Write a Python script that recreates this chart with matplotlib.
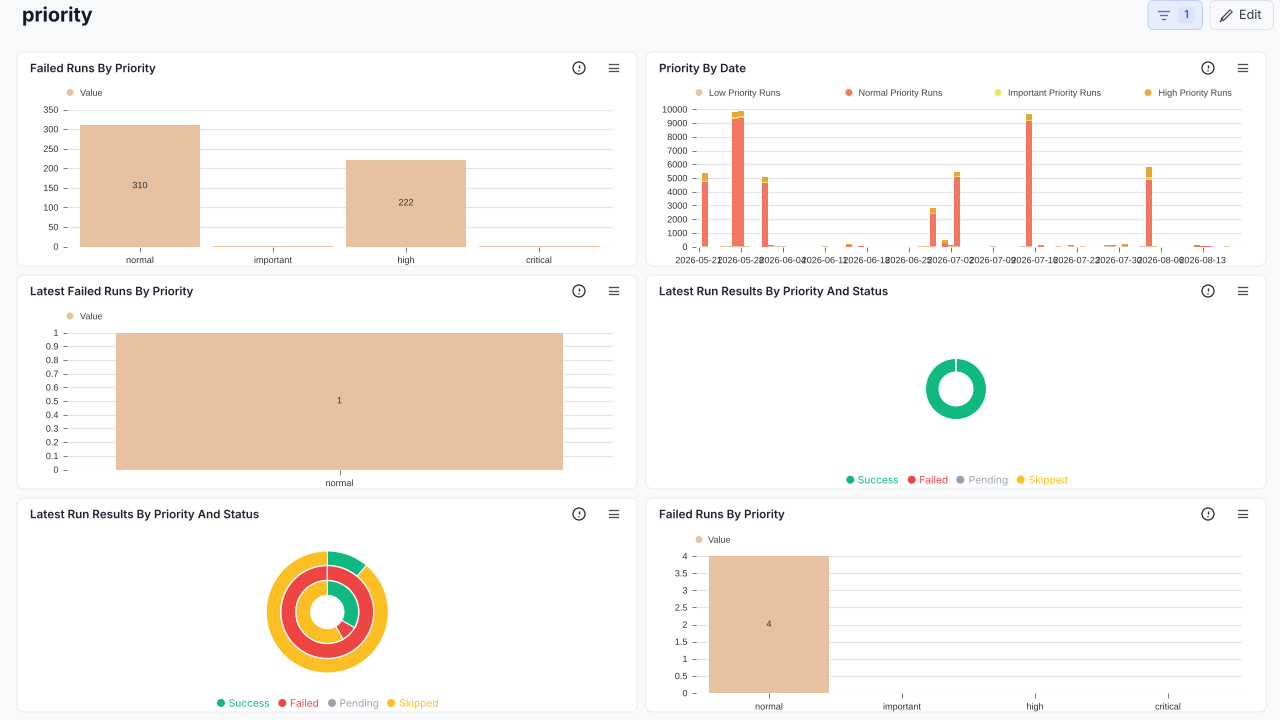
import matplotlib
matplotlib.use("Agg")
import matplotlib.pyplot as plt
import matplotlib.patheffects as pe
import numpy as np
import pandas as pd
from matplotlib.patches import FancyBboxPatch, Circle

W, H = 1280, 720
plt.rcParams["text.hinting"] = "no_hinting"
# text as paths keeps baselines level across words
plt.rcParams["path.effects"] = [pe.Normal()]

# data
priorities = ["normal", "important", "high", "critical"]
failed_runs = [310, 2, 222, 1]
latest_failed_categories = ["normal"]
latest_failed = [1]
failed_runs_latest = [4, 0, 0, 0]

start_date = "2026-05-21"
tick_dates = ["2026-05-21", "2026-05-28", "2026-06-04", "2026-06-11", "2026-06-18",
              "2026-06-25", "2026-07-02", "2026-07-09", "2026-07-16", "2026-07-23",
              "2026-07-30", "2026-08-06", "2026-08-13"]
run_dates = ["2026-05-22", "2026-05-25", "2026-05-26", "2026-05-27", "2026-05-28", "2026-05-29",
             "2026-06-01", "2026-06-02", "2026-06-03", "2026-06-04", "2026-06-11", "2026-06-15",
             "2026-06-17", "2026-06-27", "2026-06-28", "2026-06-29", "2026-07-01", "2026-07-02",
             "2026-07-03", "2026-07-09", "2026-07-14", "2026-07-15", "2026-07-17", "2026-07-20",
             "2026-07-22", "2026-07-24", "2026-07-28", "2026-07-29", "2026-07-31", "2026-08-03",
             "2026-08-04", "2026-08-05", "2026-08-06", "2026-08-12", "2026-08-13", "2026-08-14",
             "2026-08-17"]
low_runs = [30, 50, 20, 20, 20, 20, 10, 40, 60, 40, 20, 0, 10, 15, 15, 20, 0, 50, 20, 50, 20, 20,
            0, 40, 20, 50, 60, 20, 40, 20, 20, 50, 10, 10, 10, 10, 15]
normal_runs = [4650, 10, 10, 9300, 9380, 10, 4650, 70, 10, 5, 5, 120, 15, 5, 5, 2350, 280, 60,
               5080, 0, 0, 9100, 80, 0, 80, 0, 0, 70, 110, 10, 4850, 0, 0, 100, 5, 5, 0]
important_runs = [100, 0, 0, 100, 100, 0, 50, 0, 0, 0, 0, 0, 0, 0, 0, 80, 20, 0, 50, 0, 0, 100,
                  0, 0, 0, 0, 0, 0, 0, 0, 170, 0, 0, 0, 0, 0, 0]
high_runs = [580, 0, 0, 400, 400, 0, 350, 40, 10, 5, 5, 80, 5, 0, 0, 400, 220, 0, 320, 0, 0, 450,
             50, 0, 30, 0, 70, 10, 40, 0, 780, 20, 0, 40, 5, 5, 0]

status_labels = ["Success", "Failed", "Pending", "Skipped"]
single_ring = [36, 0, 0, 0]
outer_ring = [4, 0, 0, 32]
middle_ring = [0, 36, 0, 0]
inner_ring = [12, 3, 0, 21]

# colours
BG = "#f8f9fb"
PANEL_EDGE = "#e9ebef"
PEACH = "#e8c1a0"
RUN_COLORS = ["#e8c1a0", "#f47560", "#f1e15b", "#e8a838"]
STATUS_COLORS = ["#10b981", "#ef4444", "#9ca3af", "#fbbf24"]
TITLE_COL = "#1f2430"
TICK_COL = "#333333"
GRID_COL = "#e4e4e4"
AXIS_FONT = "Liberation Sans"
UI_FONT = "Inter"
AXIS_SIZE = 9.1


def px(n):
    return n * 72 / 100


def axes_px(left, top, right, bottom):
    ax = fig.add_axes([left / W, 1 - bottom / H, (right - left) / W, (bottom - top) / H])
    ax.patch.set_alpha(0)
    return ax


def rbox(x0, y0, x1, y1, r, fc, ec, lw=1.0):
    ui.add_patch(FancyBboxPatch((x0, y0), x1 - x0, y1 - y0, boxstyle=f"round,pad=0,rounding_size={r}",
                                fc=fc, ec=ec, lw=px(lw)))


def panel(x0, y0, title):
    rbox(x0, y0, x0 + 620, y0 + 214, 7, "white", PANEL_EDGE)
    ui.text(x0 + 13, y0 + 20.2, title, fontsize=px(11.6), fontweight="semibold", color=TITLE_COL,
            family=UI_FONT, va="baseline", ha="left")
    # info icon
    cx, cy = x0 + 562, y0 + 16
    ui.add_patch(Circle((cx, cy), 6, fc="white", ec="#2b2f36", lw=px(1.3)))
    ui.plot([cx, cx], [cy - 3.2, cy + 0.4], color="#2b2f36", lw=px(1.4), solid_capstyle="butt")
    ui.plot([cx], [cy + 2.8], "o", ms=px(1.5), mew=0, color="#2b2f36")
    # menu icon
    for dy in (-4, -0.5, 3):
        ui.plot([x0 + 591.5, x0 + 601], [cy + dy, cy + dy], color="#4a4f57", lw=px(1.3))


def legend_dot(x, y, label, text_x, color="#444444", dot=PEACH):
    ui.add_patch(Circle((x, y), 3.4, fc=dot, ec="none"))
    ui.text(text_x, y + 3.3, label, fontsize=px(AXIS_SIZE), color=color, family=AXIS_FONT,
            va="baseline", ha="left")


def style_axis(ax, yticks, ylabels):
    for s in ax.spines.values():
        s.set_visible(False)
    ax.set_yticks(yticks, ylabels)
    ax.grid(axis="y", color=GRID_COL, lw=px(1.2))
    ax.set_axisbelow(True)
    ax.tick_params(axis="y", length=px(4.5), width=px(1), color="#777777", pad=px(4),
                   labelsize=px(AXIS_SIZE), labelcolor=TICK_COL)
    ax.tick_params(axis="x", length=px(5), width=px(1), color="#777777", pad=px(5),
                   labelsize=px(AXIS_SIZE), labelcolor=TICK_COL)
    for t in ax.get_xticklabels() + ax.get_yticklabels():
        t.set_family(AXIS_FONT)


def band_chart(left, right, top, bottom, first_band, band, bar_px, cats, vals, ymax, yticks, ylabels):
    ax = axes_px(left, top, right, bottom)
    xs = np.arange(len(cats))
    bars = ax.bar(xs, vals, width=bar_px / band, color=PEACH, linewidth=0)
    ax.set_xlim((left - first_band) / band - 0.5, (right - first_band) / band - 0.5)
    ax.set_ylim(0, ymax)
    ax.set_xticks(xs, cats)
    style_axis(ax, yticks, ylabels)
    labels = [str(v) if v > ymax * 0.05 else "" for v in vals]
    ax.bar_label(bars, labels=labels, label_type="center", fontsize=px(AXIS_SIZE), color=TICK_COL, family=AXIS_FONT)
    return ax


def donut(cx, cy, rmax, rings):
    ax = axes_px(cx - rmax - 2, cy - rmax - 2, cx + rmax + 2, cy + rmax + 2)
    for vals, r_out, r_in in rings:
        ax.pie(vals, colors=STATUS_COLORS, radius=r_out, startangle=90, counterclock=False,
               wedgeprops=dict(width=r_out - r_in, edgecolor="white", linewidth=px(1)))
    ax.set_xlim(-rmax - 2, rmax + 2)
    ax.set_ylim(-rmax - 2, rmax + 2)
    ax.set_aspect("equal")
    return ax


def status_legend(y, dots, texts):
    for x, tx, label, col in zip(dots, texts, status_labels, STATUS_COLORS):
        ui.add_patch(Circle((x, y), 4, fc=col, ec="none"))
        ui.text(tx, y + 3.7, label, fontsize=px(10.2), color=col, family=UI_FONT, va="baseline", ha="left")


fig = plt.figure(figsize=(W / 100, H / 100), dpi=100, facecolor=BG)

# page layer in screen pixels
ui = fig.add_axes([0, 0, 1, 1], zorder=-1)
ui.set_xlim(0, W)
ui.set_ylim(H, 0)
ui.axis("off")

ui.text(22, 16, "priority", fontsize=px(19.8), fontweight="bold", color="#111827", family=UI_FONT,
        va="center", ha="left")

# filter button
rbox(1148, 0.5, 1202.5, 29.5, 6, "#e8edfd", "#c3cffa")
for half, y in ((5.5, 11), (3.5, 15), (1.5, 19)):
    ui.plot([1163 - half, 1163 + half], [y, y], color="#5f62d6", lw=px(1.3))
rbox(1178, 7, 1195, 23, 4, "#dbe2fb", "none")
ui.text(1186.5, 15, "1", fontsize=px(11), fontweight="semibold", color="#4f52c8", family=UI_FONT,
        va="center", ha="center")

# edit button
rbox(1210, 0.5, 1273.5, 29.5, 6, "#f8f9fa", "#dfe1e4")
ui.plot([1222, 1231.5], [20, 10.5], color="#3a3d42", lw=px(4), solid_capstyle="butt")
ui.plot([1222.5, 1231], [19.5, 11], color="#f8f9fa", lw=px(1.6), solid_capstyle="butt")
ui.plot([1220.5, 1222.5], [21.5, 18.5], color="#3a3d42", lw=px(1.5))
ui.text(1239, 15.5, "Edit", fontsize=px(12.6), color="#33363b", family=UI_FONT, va="center", ha="left")

panel(17, 52, "Failed Runs By Priority")
panel(646, 52, "Priority By Date")
panel(17, 275, "Latest Failed Runs By Priority")
panel(646, 275, "Latest Run Results By Priority And Status")
panel(17, 498, "Latest Run Results By Priority And Status")
panel(646, 498, "Failed Runs By Priority")

# failed runs by priority, all runs
legend_dot(70, 92.5, "Value", 80)
band_chart(67, 613, 109.5, 246.5, 73.5, 133, 120, priorities, failed_runs, 350,
           list(range(0, 351, 50)), [str(v) for v in range(0, 351, 50)])

# latest failed runs
legend_dot(70, 316, "Value", 80)
tenth_ticks = [i / 10 for i in range(11)]
tenth_labels = ["0", "0.1", "0.2", "0.3", "0.4", "0.5", "0.6", "0.7", "0.8", "0.9", "1"]
band_chart(67, 613, 332.5, 469.5, 73.5, 532, 447, latest_failed_categories, latest_failed, 1,
           tenth_ticks, tenth_labels)

# failed runs, latest window
legend_dot(699, 539.5, "Value", 708)
half_ticks = [0, 0.5, 1, 1.5, 2, 2.5, 3, 3.5, 4]
half_labels = ["0", "0.5", "1", "1.5", "2", "2.5", "3", "3.5", "4"]
band_chart(696, 1242, 556, 693, 702.5, 133, 120, priorities, failed_runs_latest, 4,
           half_ticks, half_labels)

# priority by date, stacked on a day scale
for x, tx, label, col in zip((699, 849, 998, 1148), (709, 858.5, 1008, 1158.5),
                             ("Low Priority Runs", "Normal Priority Runs",
                              "Important Priority Runs", "High Priority Runs"), RUN_COLORS):
    legend_dot(x, 92.5, label, tx, dot=col)

ax = axes_px(696, 109.3, 1242, 246.7)
t0 = pd.Timestamp(start_date)
days = (pd.to_datetime(run_dates) - t0).days.to_numpy()
tick_days = (pd.to_datetime(tick_dates) - t0).days.to_numpy()
bottom = np.zeros(len(days))
for series, col in zip((low_runs, normal_runs, important_runs, high_runs), RUN_COLORS):
    ax.bar(days, series, width=0.96, bottom=bottom, color=col, linewidth=0)
    bottom += np.array(series)
ax.set_xlim((696 - 698.7) / 6, (1242 - 698.7) / 6)
ax.set_ylim(0, 10000)
ax.set_xticks(tick_days, tick_dates)
style_axis(ax, list(range(0, 10001, 1000)), [str(v) for v in range(0, 10001, 1000)])

# status donuts
donut(956, 389, 30.5, [(single_ring, 30.5, 17)])
status_legend(479.7, (850.3, 911.7, 960.3, 1020.7), (857.7, 919.3, 968.7, 1028.7))

donut(327.3, 612, 61, [(outer_ring, 61, 46.7), (middle_ring, 46.3, 31.7), (inner_ring, 31.3, 16.7)])
status_legend(703, (221, 282.3, 332, 391), (228.7, 290, 339.5, 399.3))

fig.savefig("out.png", dpi=100, facecolor=BG)
